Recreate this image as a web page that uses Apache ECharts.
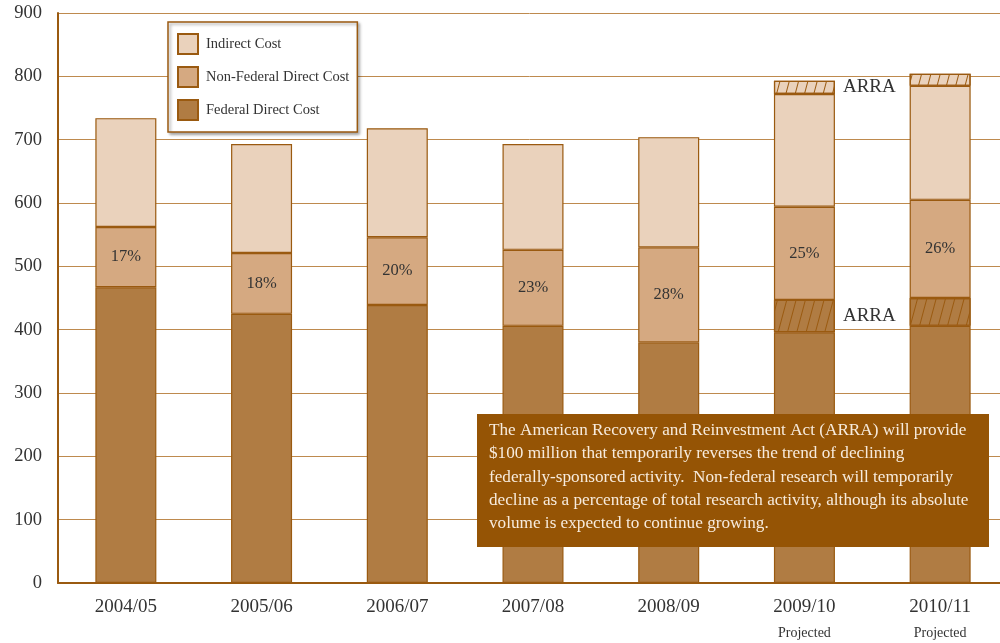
<!DOCTYPE html>
<html><head><meta charset="utf-8">
<script src="https://cdn.jsdelivr.net/npm/echarts@6/dist/echarts.min.js"></script>
<style>html,body{margin:0;padding:0;background:#fff}#c{width:1000px;height:643px}</style>
</head><body><div id="c"></div>
<script>
var categories = ['2004/05','2005/06','2006/07','2007/08','2008/09','2009/10','2010/11'];
var subLabels = ['','','','','','Projected','Projected'];
var federal = [467, 425, 439, 406, 380, 396, 406];
var arraFederal = [null, null, null, null, null, 51, 44];
var nonFederal = [95, 96, 107, 120, 150, 147, 155];
var indirect = [172, 172, 172, 167, 174, 178, 180];
var arraIndirect = [null, null, null, null, null, 21, 19];
var pctLabels = ['17%','18%','20%','23%','28%','25%','26%'];
var yTicks = [0, 900, 100];
var note = 'The American Recovery and Reinvestment Act (ARRA) will provide\n$100 million that temporarily reverses the trend of declining\nfederally-sponsored activity.  Non-federal research will temporarily\ndecline as a percentage of total research activity, although its absolute\nvolume is expected to continue growing.';

var FONT = '"Liberation Serif", "DejaVu Serif", serif';
var EDGE = '#9A5A10';
var cFed = '#B07C43', cNon = '#D5A981', cInd = '#EAD2BC';
var hatch = {symbol:'rect', symbolSize:1, dashArrayX:[1,0], dashArrayY:[1,8], rotation:-1.31, color:EDGE};

function arraLabel(arr){
  return arr.map(function(v,i){
    if(i===5) return {value:v, label:{show:true, position:'right', distance:8, formatter:'ARRA', color:'#333', fontSize:19, fontFamily:FONT}};
    return v;
  });
}

var chart = echarts.init(document.getElementById('c'));
chart.setOption({
  animation:false,
  textStyle:{fontFamily:FONT},
  grid:{left:58, width:950, top:13, bottom:60, containLabel:false, outerBoundsMode:'none'},
  legend:{
    data:['Indirect Cost','Non-Federal Direct Cost','Federal Direct Cost'],
    orient:'vertical', left:168, top:22,
    padding:[11,8,11,9], itemGap:11, itemWidth:20, itemHeight:20,
    backgroundColor:'#fff', borderColor:EDGE, borderWidth:1.5,
    shadowColor:'rgba(0,0,0,0.35)', shadowBlur:3, shadowOffsetX:2, shadowOffsetY:2,
    textStyle:{fontFamily:FONT, fontSize:14.5, color:'#333', padding:[0,0,0,3]},
    icon:'rect'
  },
  xAxis:{
    type:'category', data:categories,
    axisLine:{lineStyle:{color:EDGE, width:2}},
    axisTick:{show:false},
    axisLabel:{margin:12, formatter:function(v,i){
      return subLabels[i] ? '{a|'+v+'}\n{b|'+subLabels[i]+'}' : '{a|'+v+'}';
    }, rich:{a:{fontSize:19, fontFamily:FONT, color:'#333', lineHeight:24}, b:{fontSize:14, fontFamily:FONT, color:'#333', lineHeight:29}}}
  },
  yAxis:{
    type:'value', min:yTicks[0], max:yTicks[1], interval:yTicks[2],
    axisLine:{show:true, lineStyle:{color:EDGE, width:2}},
    axisTick:{show:false},
    axisLabel:{fontSize:18.5, fontFamily:FONT, color:'#333', margin:16},
    splitLine:{lineStyle:{color:'#BE8A4E', width:1}}
  },
  series:[
    {name:'Federal Direct Cost', type:'bar', stack:'s', barWidth:61, data:federal,
     itemStyle:{color:cFed, borderColor:EDGE, borderWidth:1.2}},
    {name:'ARRA Federal', type:'bar', stack:'s', barWidth:61, data:arraLabel(arraFederal),
     itemStyle:{color:cFed, borderColor:EDGE, borderWidth:1.2, decal:hatch}},
    {name:'Non-Federal Direct Cost', type:'bar', stack:'s', barWidth:61, data:nonFederal,
     itemStyle:{color:cNon, borderColor:EDGE, borderWidth:1.2},
     label:{show:true, position:'inside', fontSize:16.5, fontFamily:FONT, color:'#333',
       formatter:function(p){return pctLabels[p.dataIndex];}}},
    {name:'Indirect Cost', type:'bar', stack:'s', barWidth:61, data:indirect,
     itemStyle:{color:cInd, borderColor:EDGE, borderWidth:1.2}},
    {name:'ARRA Indirect', type:'bar', stack:'s', barWidth:61, data:arraLabel(arraIndirect),
     itemStyle:{color:cInd, borderColor:EDGE, borderWidth:1.2, decal:hatch}}
  ],
  graphic:[
    {type:'rect', left:477, top:414, shape:{width:512, height:133}, style:{fill:'#955405'}, z:100},
    {type:'text', left:489, top:419, z:101, style:{text:note, fill:'#F7EBDD', font:'17.2px '+FONT, lineHeight:23.3}}
  ]
});
</script></body></html>
